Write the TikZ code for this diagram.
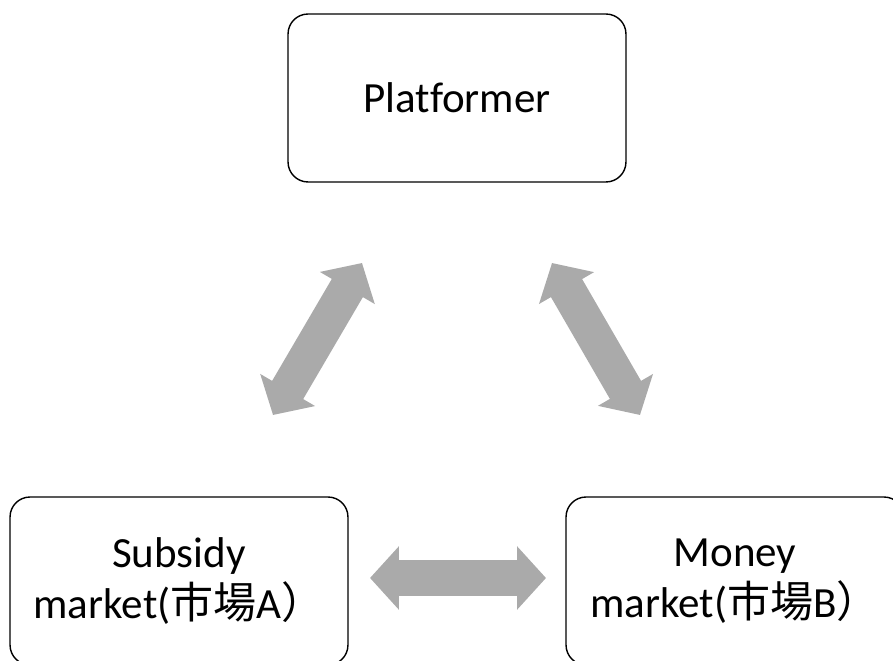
\documentclass[tikz,border=0pt]{standalone}
\usepackage{fontspec}
\setmainfont{Carlito}[Ligatures={NoCommon}]
\newfontfamily\jpfont{Noto Sans CJK JP}
\newcommand\jp[1]{{\jpfont #1}}
\usetikzlibrary{arrows.meta}
\definecolor{arrowgray}{RGB}{170,170,170}

\begin{document}
\begin{tikzpicture}
  [x=0.02cm,y=-0.02cm,
   box/.style={draw,rounded corners=0.4cm,line width=0.8pt,
     minimum width=6.76cm,minimum height=3.36cm,align=center,
     font=\fontsize{24.5}{29}\selectfont},
   dbl/.style={arrowgray,line width=0.72cm,
     {Triangle[length=0.58cm,width=1.24cm]}-{Triangle[length=0.58cm,width=1.24cm]}}]
  \useasboundingbox (0,0) rectangle (893,661);
  \clip (0,0) rectangle (893,661);

  \node[box] (plat) at (457,98) {Platformer};
  \node[box] (subA) at (179,581) {Subsidy\\market(\jp{市場}A\jp{）}};
  \node[box] (monB) at (735,581) {Money\\market(\jp{市場}B\jp{）}};

  % arrow tips
  \coordinate (pl1) at (362,263);
  \coordinate (sa1) at (273,415);
  \coordinate (pl2) at (552,263);
  \coordinate (mb1) at (640,415);
  \coordinate (sa2) at (370,578);
  \coordinate (mb2) at (546,578);

  \foreach \from/\to in {pl1/sa1,pl2/mb1,sa2/mb2}
    \draw[dbl] (\from) -- (\to);

\end{tikzpicture}
\end{document}
